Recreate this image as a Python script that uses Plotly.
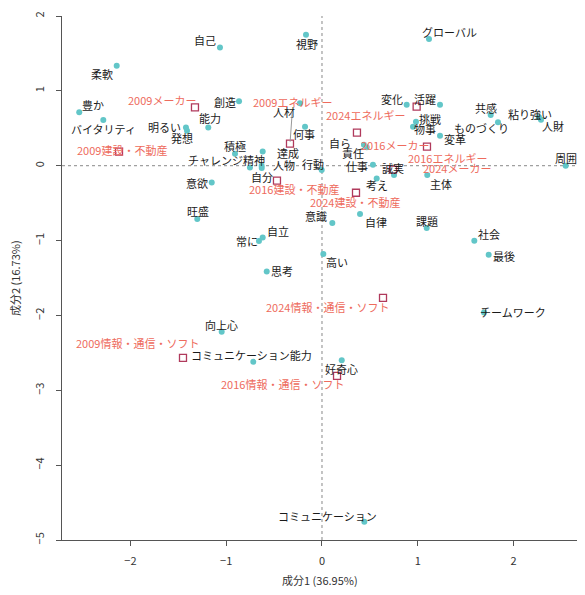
import plotly.graph_objects as go

# ---- data: terms (cyan points) ----
term_labels = ["自己", "柔軟", "豊か", "バイタリティ", "明るい", "発想", "能力", "創造", "積極", "チャレンジ精神",
               "達成", "自分", "人物", "何事", "人材", "行動", "視野", "グローバル", "変化", "活躍",
               "挑戦", "物事", "共感", "ものづくり", "粘り強い", "人財", "変革", "周囲", "主体", "考え",
               "誠実", "仕事", "責任", "自ら", "意欲", "旺盛", "意識", "自律", "課題", "自立",
               "常に", "高い", "思考", "社会", "最後", "チームワーク", "向上心", "コミュニケーション能力", "好奇心", "コミュニケーション"]
term_x = [-1.065, -2.143, -2.534, -2.283, -1.420, -1.409, -1.187, -0.866, -0.908, -0.752,
          -0.619, -0.629, -0.630, -0.177, -0.230, -0.003, -0.167, 1.117, 0.884, 1.232,
          0.981, 0.950, 1.761, 1.837, 2.265, 2.286, 1.232, 2.544, 1.099, 0.571,
          0.752, 0.532, 0.467, 0.438, -1.151, -1.302, 0.108, 0.397, 1.093, -0.619,
          -0.658, 0.014, -0.577, 1.590, 1.740, 1.691, -1.047, -0.717, 0.206, 0.442]
term_y = [1.580, 1.337, 0.713, 0.611, 0.512, 0.468, 0.512, 0.860, 0.160, -0.023,
          0.191, -0.031, 0.000, 0.521, 0.833, -0.057, 1.751, 1.694, 0.815, 0.815,
          0.588, 0.521, 0.678, 0.579, 0.646, 0.615, 0.401, 0.000, -0.124, -0.170,
          -0.124, 0.013, 0.245, 0.281, -0.223, -0.713, -0.766, -0.646, -0.833, -0.959,
          -1.007, -1.180, -1.413, -1.003, -1.190, -1.961, -2.219, -2.620, -2.598, -4.755]

# ---- data: groups (year x industry, red squares) ----
group_labels = ["2009メーカー", "2009エネルギー", "2009建設・不動産", "2009情報・通信・ソフト",
                "2016メーカー", "2016エネルギー", "2016建設・不動産", "2016情報・通信・ソフト",
                "2024メーカー", "2024エネルギー", "2024建設・不動産", "2024情報・通信・ソフト"]
group_x = [-1.326, -0.334, -2.119, -1.451, 0.365, 1.096, -0.470, 0.157, 0.741, 0.988, 0.355, 0.637]
group_y = [0.779, 0.294, 0.187, -2.567, 0.441, 0.254, -0.200, -2.807, -0.053, 0.789, -0.361, -1.765]

# ---- label placement offsets (pixels, screen: +dx right, +dy down) ----
term_dx = [-15, -15, 14, 0, -21, -5, 2, -14, 0, -23,
           25, 0, 22, -1, -16, -9, 1, 21, -15, -15,
           14, 12, -5, -16, -9, 12, 15, 0, 14, 0,
           -1, -16, -14, -24, -15, 1, -16, 16, 0, 15,
           -12, 14, 15, 15, 15, 29, 0, -2, 0, -37]
term_dy = [-7, 8, -7, 9, 0, 7, -9, 1, -8, -7,
           2, 9, -1, 7, 9, -6, 9, -7, -6, -6,
           -3, 2, -7, 6, -3, 6, 3, -8, 9, 7,
           -7, 1, 6, -2, 1, -8, -7, 8, -7, -7,
           0, 8, 0, -7, 1, -1, -7, -7, 9, -6]
group_dx = [-33, 3, 3, -45, 38, 21, 17, -55, 64, -51, -1, -56]
group_dy = [-7, -42, -2, -15, 12, 11, 8, 8, -2, 8, 9, 9]
group_leader = [False, True, False, False, False, False, False, False, False, False, False, False]

FONT = "Noto Sans CJK JP, Noto Sans, sans-serif"
CYAN = "#62c6c8"
SQ = "#b03a5c"
RED_TXT = "#ee6b5d"

fig = go.Figure()
fig.add_trace(go.Scatter(x=term_x, y=term_y, mode="markers",
                         marker=dict(color=CYAN, size=6, line=dict(width=0)),
                         text=term_labels, hoverinfo="text", showlegend=False))
fig.add_trace(go.Scatter(x=group_x, y=group_y, mode="markers",
                         marker=dict(symbol="square-open", color=SQ, size=7, line=dict(width=1.3, color=SQ)),
                         text=group_labels, hoverinfo="text", showlegend=False))

annotations = []
for lab, x, y, dx, dy in zip(term_labels, term_x, term_y, term_dx, term_dy):
    annotations.append(dict(x=x, y=y, text=lab, showarrow=False, xshift=dx, yshift=-dy,
                            font=dict(family=FONT, size=11, color="#1a1a1a")))
for lab, x, y, dx, dy, lead in zip(group_labels, group_x, group_y, group_dx, group_dy, group_leader):
    if lead:
        annotations.append(dict(x=x, y=y, text=lab, showarrow=True, ax=dx, ay=dy,
                                arrowhead=0, arrowwidth=1, arrowcolor="#999999", standoff=2,
                                font=dict(family=FONT, size=11, color=RED_TXT)))
    else:
        annotations.append(dict(x=x, y=y, text=lab, showarrow=False, xshift=dx, yshift=-dy,
                                font=dict(family=FONT, size=11, color=RED_TXT)))

# axis titles
annotations.append(dict(xref="paper", yref="paper", x=0.5, y=0, yanchor="middle", yshift=-40, showarrow=False,
                        text="成分1 (36.95%)", font=dict(family=FONT, size=11, color="#333333")))
annotations.append(dict(xref="paper", yref="paper", x=0, y=0.5, xanchor="center", xshift=-47, showarrow=False,
                        textangle=-90, text="成分2 (16.73%)", font=dict(family=FONT, size=11, color="#333333")))

shapes = [
    dict(type="line", xref="paper", yref="y", x0=0, x1=1, y0=0, y1=0,
         line=dict(color="#888888", width=1, dash="dot"), layer="below"),
    dict(type="line", xref="x", yref="paper", x0=0, x1=0, y0=0, y1=1,
         line=dict(color="#888888", width=1, dash="dot"), layer="below"),
]

axis_common = dict(showgrid=False, zeroline=False, showline=True, linecolor="#555555", linewidth=1,
                   ticks="outside", ticklen=5, tickcolor="#555555", automargin=False,
                   tickfont=dict(family=FONT, size=11, color="#333333"))

# page body has an 8px default margin, so the figure is sized to fit inside the window
fig.update_layout(
    width=569, height=579,
    margin=dict(l=54, r=0, t=8, b=47),
    paper_bgcolor="white", plot_bgcolor="white",
    annotations=annotations, shapes=shapes,
    xaxis=dict(range=[-2.714, 2.662], tickvals=[-2, -1, 0, 1, 2], ticklabelstandoff=6, **axis_common),
    yaxis=dict(range=[-5, 2], tickvals=[-5, -4, -3, -2, -1, 0, 1, 2], tickangle=-90,
               ticklabelstandoff=8, **axis_common),
)

fig.write_html("out.html")
